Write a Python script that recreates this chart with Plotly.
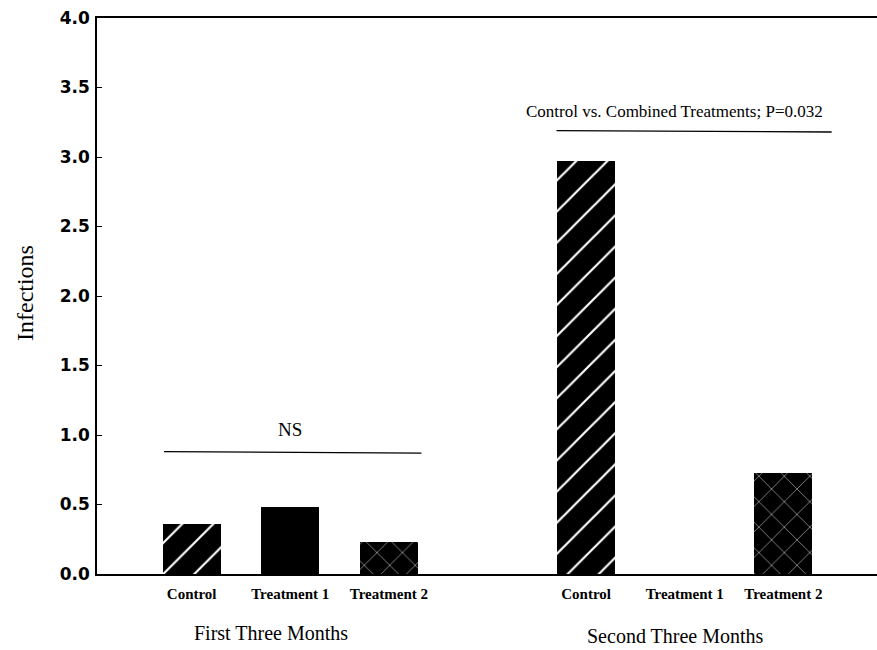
import plotly.graph_objects as go

# Mean infections per group, by period
categories = ["Control", "Treatment 1", "Treatment 2"]
first_three_months = [0.36, 0.48, 0.23]
second_three_months = [2.97, 0.0, 0.73]
period_labels = ["First Three Months", "Second Three Months"]
y_ticks = [0.0, 0.5, 1.0, 1.5, 2.0, 2.5, 3.0, 3.5, 4.0]

# x slots: three bars per period with one empty slot between periods
x_first = [0, 1, 2]
x_second = [4, 5, 6]

patterns = [
    dict(shape="/", bgcolor="black", fgcolor="white", size=22, solidity=0.1, fillmode="replace"),
    dict(shape="", bgcolor="black", fgcolor="black"),
    dict(shape="x", bgcolor="black", fgcolor="#e0e0e0", size=18, solidity=0.06, fillmode="replace"),
]

fig = go.Figure()
for i, name in enumerate(categories):
    fig.add_trace(go.Bar(
        x=[x_first[i], x_second[i]],
        y=[first_three_months[i], second_three_months[i]],
        width=0.59,
        marker=dict(color="black", line=dict(width=0), pattern=patterns[i]),
        name=name,
        showlegend=False,
    ))

serif = "Liberation Serif, Times New Roman, serif"
sans = "DejaVu Sans, Arial, sans-serif"

fig.update_layout(
    width=877, height=650,
    margin=dict(l=97, r=0, t=18, b=76),
    paper_bgcolor="white", plot_bgcolor="white",
    bargap=0,
    xaxis=dict(
        range=[-0.96, 6.95],
        tickvals=x_first + x_second,
        ticktext=[f"<b>{c}</b>" for c in categories] * 2,
        tickfont=dict(family=serif, size=15, color="black"),
        ticks="", ticklabelstandoff=5,
        showgrid=False, zeroline=False,
        showline=True, linecolor="black", linewidth=1.5, mirror=True,
    ),
    yaxis=dict(
        range=[0, 4],
        tickvals=y_ticks,
        ticktext=[f"<b>{v:.1f}</b>" for v in y_ticks],
        tickfont=dict(family=sans, size=17, color="black"),
        ticks="inside", ticklen=5, tickcolor="black", ticklabelstandoff=2,
        showgrid=False, zeroline=False,
        showline=True, linecolor="black", linewidth=1.5,
    ),
)

# significance brackets
fig.add_shape(type="line", xref="x", yref="y", x0=-0.28, x1=2.33, y0=0.88, y1=0.87,
              line=dict(color="black", width=1.3))
fig.add_annotation(x=1.0, y=1.04, xref="x", yref="y", text="NS", showarrow=False,
                   font=dict(family=serif, size=19, color="black"))
fig.add_shape(type="line", xref="x", yref="y", x0=3.70, x1=6.49, y0=3.19, y1=3.18,
              line=dict(color="black", width=1.3))
fig.add_annotation(x=4.9, y=3.33, xref="x", yref="y",
                   text="Control vs. Combined Treatments; P=0.032", showarrow=False,
                   font=dict(family=serif, size=17, color="black"))

# period labels beneath the category labels
for xc, label, ypix in [(0.8, period_labels[0], 633), (4.9, period_labels[1], 636)]:
    fig.add_annotation(x=xc, y=(574 - ypix) / 556, xref="x", yref="paper", yanchor="middle",
                       text=label, showarrow=False,
                       font=dict(family=serif, size=20, color="black"))

# y-axis title
fig.add_annotation(x=(25 - 97) / 780, y=(574 - 293) / 556, xref="paper", yref="paper",
                   xanchor="center", yanchor="middle",
                   text="Infections", textangle=-90, showarrow=False,
                   font=dict(family=serif, size=24, color="black"))

fig.write_html("out.html")
